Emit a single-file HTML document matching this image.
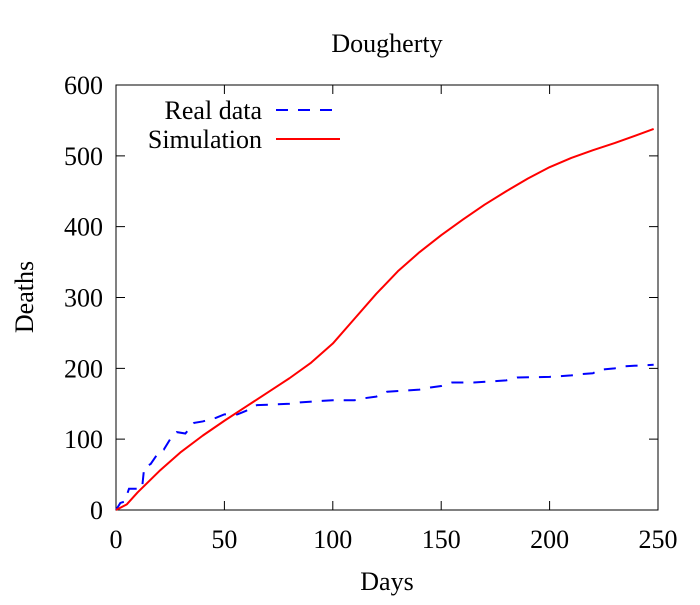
<!DOCTYPE html>
<html><head><meta charset="utf-8"><style>
body{margin:0;background:#fff}
text{font-family:"Liberation Serif",serif;fill:#000}
</style></head><body>
<svg id="c" width="700" height="600" xmlns="http://www.w3.org/2000/svg"></svg>
<script>
const realDays=[0,2,4,6,12,13,16,20,22,26,28,32,36,40,46,50,56,60,65,80,85,100,110,115,120,125,140,145,150,155,165,180,185,200,210,215,220,223,230,235,248];
const realDeaths=[0,10,12,30,30,60,65,83,85,105,110,108,123,125,130,135,135,140,148,150,152,155,155,158,160,167,170,173,175,180,180,183,187,188,190,192,193,198,200,203,205];
const simDays=[0,5,10,20,30,40,50,60,70,80,90,100,110,120,130,140,150,160,170,180,190,200,210,220,230,240,248];
const simDeaths=[0,8,25,55,82,105,126,146,166,186,208,235,270,305,337,364,388,410,431,450,468,484,497,508,518,529,538];
const xTicks=[0,50,100,150,200,250];
const yTicks=[0,100,200,300,400,500,600];
const L=116,R=658,T=85,B=510;
const X=v=>L+v/250*(R-L), Y=v=>B-v/600*(B-T);
const svg=document.getElementById('c');const NS='http://www.w3.org/2000/svg';
function mk(t,a,txt){const e=document.createElementNS(NS,t);for(const k in a)e.setAttribute(k,a[k]);if(txt!=null)e.textContent=txt;svg.appendChild(e);return e;}
let e;
e=mk('rect',{x:L,y:T,width:R-L,height:B-T,fill:'none',stroke:'#000','stroke-width':1});


xTicks.forEach(v=>{
 e=mk('path',{d:`M${X(v)},${B}v-9M${X(v)},${T}v9`,stroke:'#000'});
 
 
 e=mk('text',{x:X(v),y:B+38,'text-anchor':'middle','font-size':26},v);
 
 
});
yTicks.forEach(v=>{
 e=mk('path',{d:`M${L},${Y(v)}h9M${R},${Y(v)}h-9`,stroke:'#000'});
 
 
 e=mk('text',{x:L-13,y:Y(v)+9,'text-anchor':'end','font-size':26},v);
 
 
});
e=mk('text',{x:387,y:52,'text-anchor':'middle','font-size':26},'Dougherty');


e=mk('text',{x:387,y:590,'text-anchor':'middle','font-size':26},'Days');


e=mk('text',{x:33,y:297,'text-anchor':'middle','font-size':26,transform:'rotate(-90 33 297)'},'Deaths');


function pts(xs,ys){return xs.map((d,i)=>X(d)+','+Y(ys[i])).join(' ');}
e=mk('polyline',{points:pts(realDays,realDeaths),fill:'none',stroke:'#00f','stroke-width':2,'stroke-dasharray':'12,10'});


e=mk('polyline',{points:pts(simDays,simDeaths),fill:'none',stroke:'#f00','stroke-width':2,'stroke-linejoin':'round'});


e=mk('text',{x:262,y:119,'text-anchor':'end','font-size':26},'Real data');


e=mk('path',{d:'M276,110H340',stroke:'#00f','stroke-width':2,'stroke-dasharray':'12,10'});


e=mk('text',{x:262,y:148,'text-anchor':'end','font-size':26},'Simulation');


e=mk('path',{d:'M276,139H340',stroke:'#f00','stroke-width':2});


</script>
</body></html>
